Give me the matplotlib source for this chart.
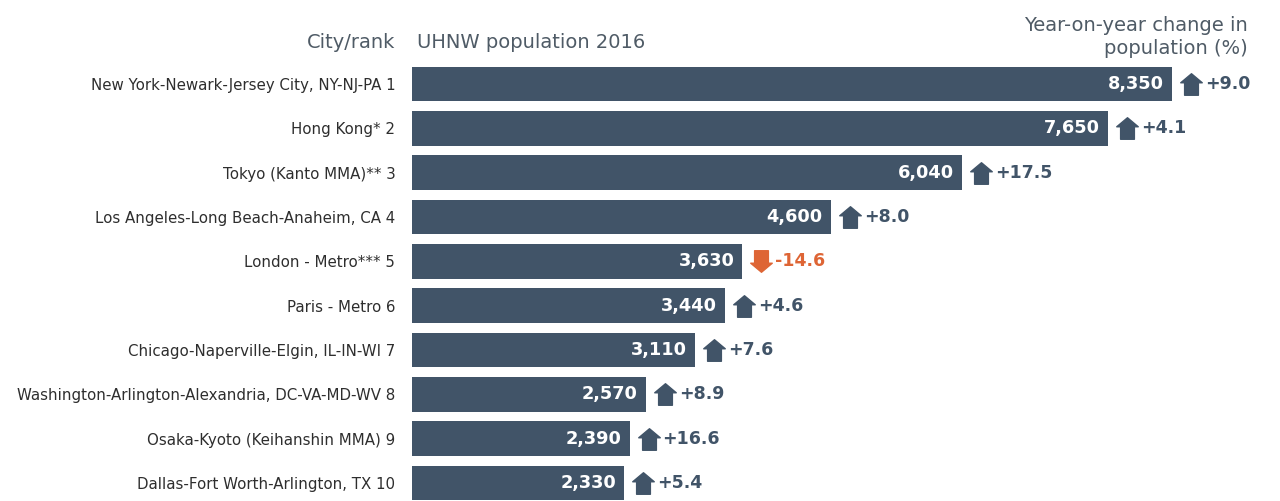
import matplotlib
matplotlib.use("Agg")
import matplotlib.pyplot as plt
from matplotlib.path import Path
from matplotlib.transforms import offset_copy

plt.rcParams['font.family'] = ['DejaVu Sans']

cities = [
    "New York-Newark-Jersey City, NY-NJ-PA 1",
    "Hong Kong* 2",
    "Tokyo (Kanto MMA)** 3",
    "Los Angeles-Long Beach-Anaheim, CA 4",
    "London - Metro*** 5",
    "Paris - Metro 6",
    "Chicago-Naperville-Elgin, IL-IN-WI 7",
    "Washington-Arlington-Alexandria, DC-VA-MD-WV 8",
    "Osaka-Kyoto (Keihanshin MMA) 9",
    "Dallas-Fort Worth-Arlington, TX 10",
]
population = [8350, 7650, 6040, 4600, 3630, 3440, 3110, 2570, 2390, 2330]
change = [9.0, 4.1, 17.5, 8.0, -14.6, 4.6, 7.6, 8.9, 16.6, 5.4]

BAR = "#415468"
ORANGE = "#de6535"
TXT = "#2e2e2e"
HDR = "#4f5b66"

W, H = 1280, 501
fig = plt.figure(figsize=(W / 100, H / 100), dpi=100)

ax_left, ax_right = 412, 1280
ax_top, ax_bot = 62, 501
ax = fig.add_axes([ax_left / W, 1 - ax_bot / H, (ax_right - ax_left) / W, (ax_bot - ax_top) / H])
spacing = 44.3
ymax = -0.5 + (ax_bot - ax_top) / spacing
ax.set_ylim(ymax, -0.5)
xmax = (ax_right - ax_left) / 760 * 8350
ax.set_xlim(0, xmax)

ys = list(range(len(cities)))
ax.barh(ys, population, height=0.78, color=BAR)
ax.set_yticks(ys)
ax.set_yticklabels(cities, fontsize=10.8, color=TXT)
ax.tick_params(axis='y', length=0, pad=12)
ax.set_xticks([])
for s in ax.spines.values():
    s.set_visible(False)

up = Path([(-0.5, 0.08), (0, 0.5), (0.5, 0.08), (0.32, 0.08), (0.32, -0.5),
           (-0.32, -0.5), (-0.32, 0.08), (-0.5, 0.08)],
          [Path.MOVETO] + [Path.LINETO] * 6 + [Path.CLOSEPOLY])
down = Path([(-0.5, -0.08), (0, -0.5), (0.5, -0.08), (0.32, -0.08), (0.32, 0.5),
             (-0.32, 0.5), (-0.32, -0.08), (-0.5, -0.08)],
            [Path.MOVETO] + [Path.LINETO] * 6 + [Path.CLOSEPOLY])

t_val = offset_copy(ax.transData, fig=fig, x=-8, y=0, units='dots')
t_arr = offset_copy(ax.transData, fig=fig, x=19, y=0, units='dots')
t_chg = offset_copy(ax.transData, fig=fig, x=33, y=0, units='dots')

for y, p, c in zip(ys, population, change):
    ax.text(p, y, f"{p:,}", transform=t_val, ha='right', va='center',
            color='white', fontsize=12.8, fontweight='bold')
    col = BAR if c >= 0 else ORANGE
    ax.plot([p], [y], marker=up if c >= 0 else down, ms=15.5, color=col,
            transform=t_arr, clip_on=False)
    ax.text(p, y, f"{c:+.1f}", transform=t_chg, ha='left', va='center',
            color=col, fontsize=12.5, fontweight='bold')

fig.text(395 / W, 1 - 43 / H, "City/rank", ha='right', va='center', fontsize=14, color=HDR)
fig.text(417 / W, 1 - 43 / H, "UHNW population 2016", ha='left', va='center', fontsize=14, color=HDR)
fig.text(1248 / W, 1 - 37 / H, "Year-on-year change in\npopulation (%)", ha='right', va='center',
         fontsize=14, color=HDR, multialignment='right', linespacing=1.3)

fig.savefig("out.png", dpi=100)
